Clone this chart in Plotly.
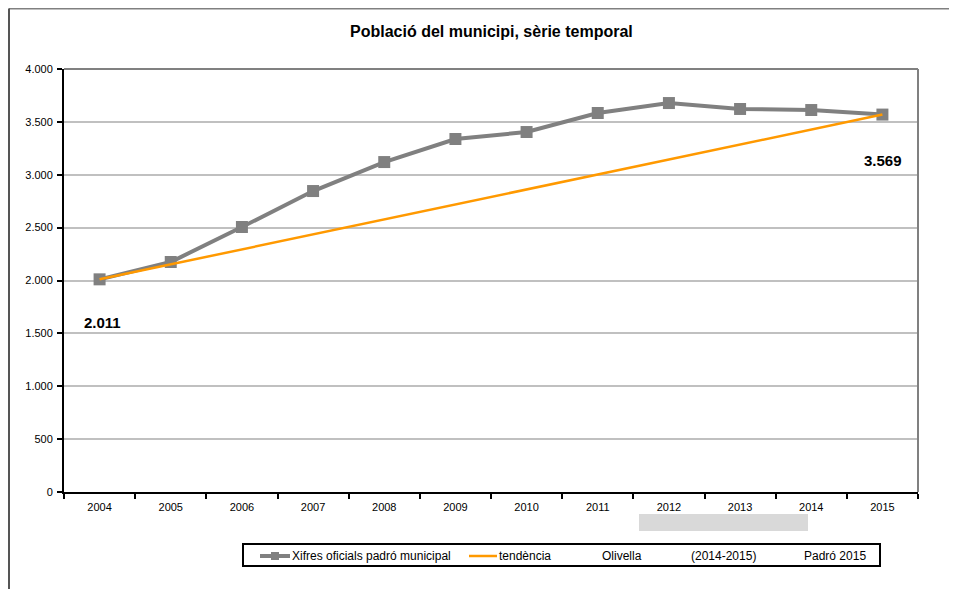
import plotly.graph_objects as go

years = ["2004", "2005", "2006", "2007", "2008", "2009", "2010", "2011", "2012", "2013", "2014", "2015"]
poblacio = [2011, 2175, 2506, 2846, 3120, 3338, 3404, 3584, 3678, 3622, 3612, 3569]
trend_years = ["2004", "2015"]
trend_values = [2011, 3569]
y_ticks = [0, 500, 1000, 1500, 2000, 2500, 3000, 3500, 4000]

title = "Població del municipi, sèrie temporal"
legend_items = ["Xifres oficials padró municipal", "tendència", "Olivella", "(2014-2015)", "Padró 2015"]

# page offset (body margin of the html page)
OX, OY = 8, 8
W, H = 957 - OX, 589 - OY
L, R, T, B = 64, 918, 69, 492  # plot area in page pixels


def px(x):
    return (x - L) / (R - L)


def py(y):
    return (B - y) / (B - T)


font = "Liberation Sans, Arial, sans-serif"
GRAY = "#808080"
ORANGE = "#FF9900"

fig = go.Figure()
fig.add_trace(go.Scatter(
    x=years, y=poblacio, mode="lines+markers",
    line=dict(color=GRAY, width=4),
    marker=dict(symbol="square", size=12, color=GRAY),
    showlegend=False, hoverinfo="skip",
))
fig.add_trace(go.Scatter(
    x=trend_years, y=trend_values, mode="lines",
    line=dict(color=ORANGE, width=2.5),
    showlegend=False, hoverinfo="skip",
))

shapes = []
# outer frame (top + left)
shapes.append(dict(type="line", xref="paper", yref="paper", x0=px(9), x1=px(957), y0=py(8.5), y1=py(8.5),
                   line=dict(color=GRAY, width=2)))
shapes.append(dict(type="line", xref="paper", yref="paper", x0=px(9), x1=px(9), y0=py(8.5), y1=py(589),
                   line=dict(color="#555555", width=2)))
# plot area top/right borders
shapes.append(dict(type="line", xref="paper", yref="paper", x0=0, x1=1, y0=1, y1=1,
                   line=dict(color=GRAY, width=2)))
shapes.append(dict(type="line", xref="paper", yref="paper", x0=1, x1=1, y0=0, y1=1,
                   line=dict(color=GRAY, width=2)))
# gray block below axis
shapes.append(dict(type="rect", xref="paper", yref="paper", x0=px(639), x1=px(808), y0=py(531), y1=py(514),
                   fillcolor="#d9d9d9", line=dict(width=0), layer="below"))
# legend box
shapes.append(dict(type="rect", xref="paper", yref="paper", x0=px(243), x1=px(880), y0=py(566), y1=py(544),
                   fillcolor="white", line=dict(color="black", width=2)))
# legend symbols
shapes.append(dict(type="line", xref="paper", yref="paper", x0=px(260), x1=px(290), y0=py(556), y1=py(556),
                   line=dict(color=GRAY, width=4)))
shapes.append(dict(type="rect", xref="paper", yref="paper", x0=px(271), x1=px(279), y0=py(560), y1=py(552),
                   fillcolor=GRAY, line=dict(width=0)))
shapes.append(dict(type="line", xref="paper", yref="paper", x0=px(469), x1=px(497), y0=py(556), y1=py(556),
                   line=dict(color=ORANGE, width=2.5)))

annotations = []
leg_x = [290, 497, 600, 689, 802]
for txt, x0 in zip(legend_items, leg_x):
    annotations.append(dict(text=txt, xref="paper", yref="paper", x=px(x0), y=py(556),
                            xanchor="left", yanchor="middle", showarrow=False,
                            font=dict(family=font, size=12, color="black")))
annotations.append(dict(text="<b>2.011</b>", xref="paper", yref="paper", x=px(102), y=py(322),
                        xanchor="center", yanchor="middle", showarrow=False,
                        font=dict(family=font, size=15, color="black")))
annotations.append(dict(text="<b>3.569</b>", xref="paper", yref="paper", x=px(883), y=py(160),
                        xanchor="center", yanchor="middle", showarrow=False,
                        font=dict(family=font, size=15, color="black")))
annotations.append(dict(text="<b>" + title + "</b>", xref="paper", yref="paper", x=px(491), y=py(31),
                        xanchor="center", yanchor="middle", showarrow=False,
                        font=dict(family=font, size=16, color="black")))

fig.update_layout(
    width=W, height=H,
    margin=dict(l=L - OX, r=957 - R, t=T - OY, b=589 - B, pad=0),
    paper_bgcolor="white", plot_bgcolor="white",
    separators=",.",
    showlegend=False,
    shapes=shapes, annotations=annotations,
    font=dict(family=font, size=11, color="black"),
)
fig.update_xaxes(
    type="category", categoryorder="array", categoryarray=years,
    range=[-0.5, 11.5], tickson="boundaries", ticks="outside", ticklen=5, tickwidth=1.5,
    tickcolor="black", showline=True, linecolor="black", linewidth=2, showgrid=False,
    tickfont=dict(family=font, size=11), zeroline=False, ticklabelstandoff=4,
)
fig.update_yaxes(
    range=[0, 4000], tickvals=y_ticks, tickformat=",d", ticks="outside", ticklen=5, tickwidth=1.5,
    tickcolor="black", showline=True, linecolor="black", linewidth=2,
    showgrid=True, gridcolor="#c0c0c0", gridwidth=2, zeroline=False,
    tickfont=dict(family=font, size=11), ticklabelstandoff=2,
)

fig.write_html("out.html")
